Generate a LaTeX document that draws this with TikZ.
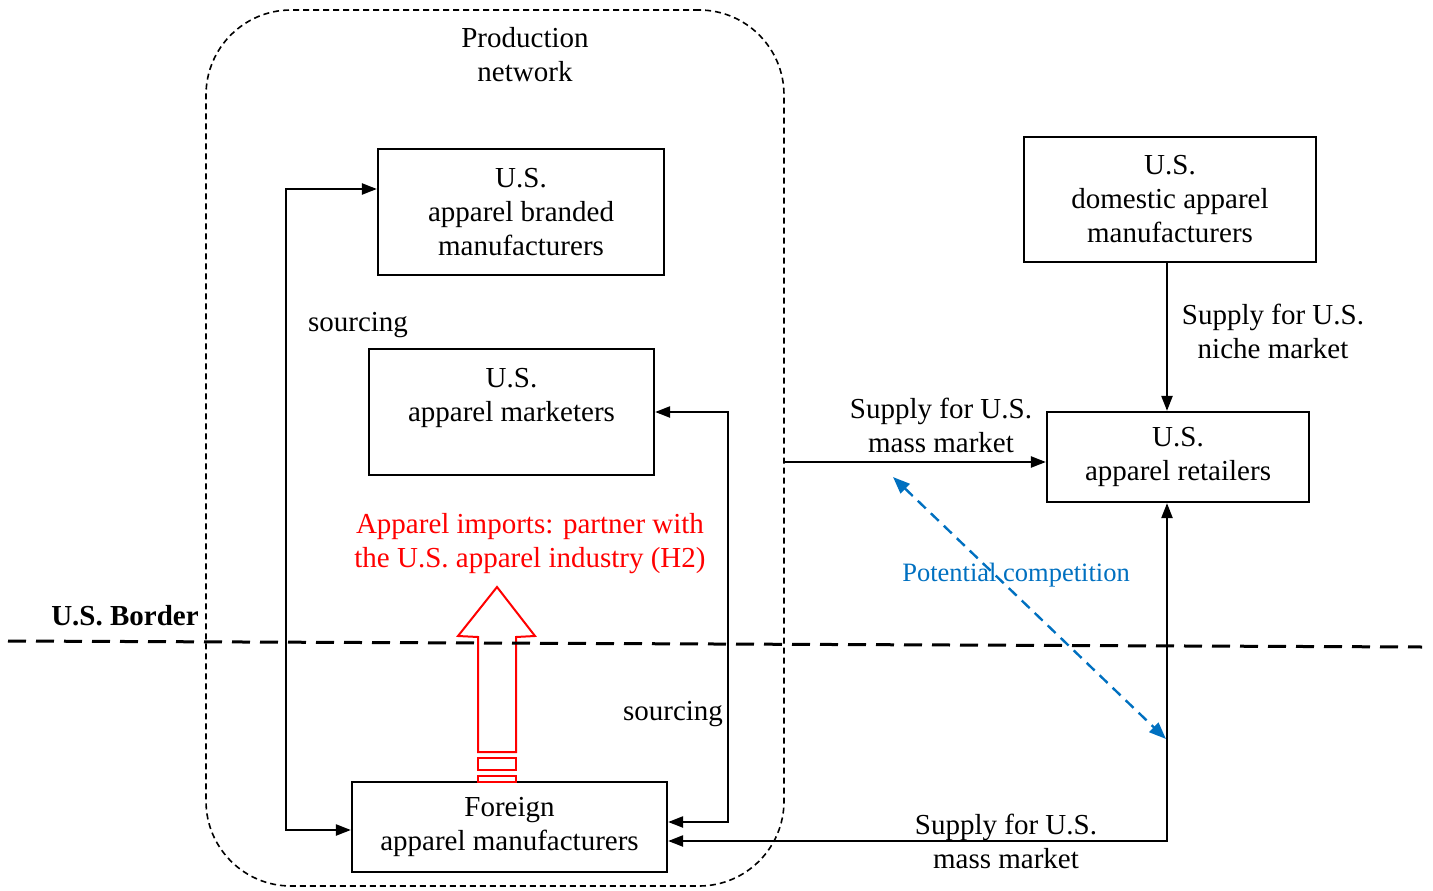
\documentclass[tikz,border=0pt]{standalone}
\usepackage{fontspec}
\setmainfont{Liberation Serif}
\usetikzlibrary{arrows.meta,calc}
\definecolor{compblue}{RGB}{0,112,192}
\begin{document}
\begin{tikzpicture}[x=1pt,y=-1pt,
  font=\fontsize{29}{34}\selectfont,
  box/.style={draw,line width=2.2pt,inner sep=0pt,align=center},
  lbl/.style={inner sep=0pt,align=center},
  tip/.tip={Triangle[length=15pt,width=11pt]},
  conn/.style={line width=2.3pt,-tip},
  dbl/.style={line width=2.3pt,tip-tip},
  bluetip/.tip={Triangle[length=17pt,width=13pt]},
  comp/.style={compblue,line width=2.4pt,dash pattern=on 11pt off 7pt,bluetip-bluetip},
  netstyle/.style={draw,line width=1.6pt,dash pattern=on 6pt off 4pt,rounded corners=85pt,inner sep=0pt},
  redarrow/.style={draw=red,line width=2pt}
]
\useasboundingbox (0,0) rectangle (1433,891);

% production network boundary
\node[netstyle,minimum width=578pt,minimum height=876pt] (net) at (495,448) {};
\node[lbl] (netlbl) at (525,55) {Production\\network};

% boxes
\node[box,minimum width=286pt,minimum height=126pt] (A) at (521,212) {U.S.\\apparel branded\\manufacturers};
\node[box,minimum width=285pt,minimum height=126pt] (B) at (511.5,412) {U.S.\\apparel marketers\\\mbox{}};
\node[box,minimum width=315pt,minimum height=90pt] (C) at (509.5,827) {Foreign\\apparel manufacturers};
\node[box,minimum width=292pt,minimum height=125pt] (D) at (1170,199.5) {U.S.\\domestic apparel\\manufacturers};
\node[box,minimum width=262pt,minimum height=90pt] (E) at (1178,457) {U.S.\\apparel retailers};

% red hollow arrow
\draw[redarrow] (478,752) -- (478,637) -- (458,636) -- (497,587) -- (535,636) -- (516,637) -- (516,752) -- cycle;
\draw[redarrow] (478,758) rectangle (516,770);
\draw[redarrow] (478,776) rectangle (516,782);
\node[lbl,text=red] (h2) at (530,544) {Apparel imports: partner with\\the U.S. apparel industry (H2)};

% border
\coordinate (b1) at (8,641);
\coordinate (b2) at (1422,647);
\draw[line width=3pt,dash pattern=on 18pt off 10pt] (b1) -- (b2);
\node[lbl,font=\fontsize{29}{34}\selectfont\bfseries] (border) at (125,616) {U.S. Border};

% left sourcing loop
\coordinate (lt) at (286,189);
\coordinate (lb) at (286,830);
\draw[dbl] (A.west |- lt) -- (lt) -- (lb) -- (C.west |- lb);
\node[lbl] (src1) at (358,325) {sourcing};

% right sourcing loop
\coordinate (rt) at (728,412);
\coordinate (rb) at (728,822);
\draw[dbl] (B.east |- rt) -- (rt) -- (rb) -- (C.east |- rb);
\node[lbl] (src2) at (673,714) {sourcing};

% top mass market supply
\coordinate (m1) at (784,462);
\draw[conn] (m1) -- (E.west |- m1);
\node[lbl] (mm1) at (941,425) {Supply for U.S.\\mass market};

% niche market supply
\coordinate (dx) at (1167,0);
\draw[conn] (D.south -| dx) -- (E.north -| dx);
\node[lbl] (niche) at (1273,331) {Supply for U.S.\\niche market};

% bottom mass market supply
\coordinate (br) at (1167,841);
\draw[dbl] (E.south -| br) -- (br) -- (C.east |- br);
\node[lbl] (mm2) at (1006,841) {Supply for U.S.\\mass market};

% potential competition
\coordinate (p1) at (893,477);
\coordinate (p2) at (1166,739);
\draw[comp] (p1) -- (p2);
\node[lbl,text=compblue,font=\fontsize{26.5}{30}\selectfont] (pc) at (1016,575) {Potential competition};
\end{tikzpicture}
\end{document}
